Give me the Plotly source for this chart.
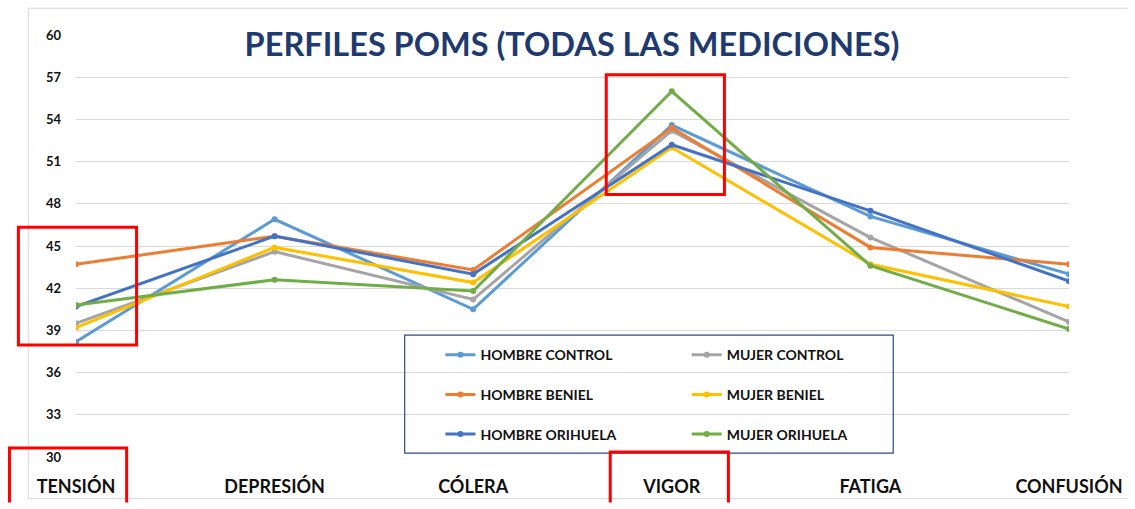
import plotly.graph_objects as go

categories = ["TENSIÓN", "DEPRESIÓN", "CÓLERA", "VIGOR", "FATIGA", "CONFUSIÓN"]

hombre_control = [38.2, 46.9, 40.5, 53.6, 47.1, 43.0]
mujer_control = [39.5, 44.6, 41.2, 53.2, 45.6, 39.6]
hombre_beniel = [43.7, 45.7, 43.3, 53.4, 44.9, 43.7]
mujer_beniel = [39.2, 44.9, 42.4, 52.0, 43.7, 40.7]
hombre_orihuela = [40.7, 45.7, 43.0, 52.2, 47.5, 42.5]
mujer_orihuela = [40.8, 42.6, 41.8, 56.0, 43.6, 39.1]

series = [
    ("HOMBRE CONTROL", hombre_control, "#5B9BD5", "legend"),
    ("MUJER CONTROL", mujer_control, "#A5A5A5", "legend2"),
    ("HOMBRE BENIEL", hombre_beniel, "#ED7D31", "legend"),
    ("MUJER BENIEL", mujer_beniel, "#FFC000", "legend2"),
    ("HOMBRE ORIHUELA", hombre_orihuela, "#4472C4", "legend"),
    ("MUJER ORIHUELA", mujer_orihuela, "#70AD47", "legend2"),
]

W, H = 1135, 509
L, T = 76, 35
R = W - 1076
B = H - 461
PW, PH = W - L - R, H - T - B


def px2paper(x, y):
    # window pixel -> paper coordinates
    return (x - L) / PW, (H - B - y) / PH


def path(points):
    parts = []
    for i, (x, y) in enumerate(points):
        px, py = px2paper(x, y)
        parts.append(("M" if i == 0 else "L") + f" {px:.5f},{py:.5f}")
    return " ".join(parts)


fig = go.Figure()
for name, vals, color, leg in series:
    fig.add_trace(go.Scatter(
        x=list(range(len(categories))), y=vals, name=name, mode="lines+markers",
        line=dict(color=color, width=3), marker=dict(color=color, size=6),
        legend=leg, legendgroup=name,
    ))

legend_common = dict(
    bgcolor="rgba(0,0,0,0)", font=dict(family="Lato", size=14, color="#111", weight="bold"),
    tracegroupgap=18.5, itemwidth=30, xanchor="left", yanchor="top",
)
lx1, ly = px2paper(443, 342)
lx2, _ = px2paper(691, 342)

# everything kept inside the window so the page never overflows
shapes = [
    # chart border (right side runs off the picture)
    dict(type="path", xref="paper", yref="paper",
         path=path([(1135, 8), (28, 8), (28, 503), (1135, 503)]),
         line=dict(color="#D9D9D9", width=1)),
    # legend box
    dict(type="path", xref="paper", yref="paper",
         path=path([(407, 338), (899, 338), (899, 457), (407, 457)]) + " Z",
         line=dict(color="#2F4A80", width=1.2)),
]
# red highlight boxes
for pts in [
    [(18, 229), (137, 229), (137, 348), (18, 348)],
    [(610, 75), (729, 75), (729, 196), (610, 196)],
]:
    shapes.append(dict(type="path", xref="paper", yref="paper", path=path(pts) + " Z",
                       line=dict(color="#FF0000", width=3)))
for pts in [
    [(9, 507), (9, 452), (127, 452), (127, 507)],
    [(614, 507), (614, 456), (733, 456), (733, 507)],
]:
    shapes.append(dict(type="path", xref="paper", yref="paper", path=path(pts),
                       line=dict(color="#FF0000", width=3)))

fig.update_layout(
    width=W, height=H, margin=dict(l=L, r=R, t=T, b=B),
    paper_bgcolor="white", plot_bgcolor="white",
    title=dict(text="<b>PERFILES POMS (TODAS LAS MEDICIONES)</b>", x=572 / W, xanchor="center",
               y=1 - 45 / H, yanchor="middle",
               font=dict(family="Lato", size=32.5, color="#1F3A6E")),
    xaxis=dict(range=[0, 5], tickvals=list(range(len(categories))), ticktext=categories,
               showgrid=False, zeroline=False, showline=False, ticks="",
               tickfont=dict(family="Lato", size=18, color="#111", weight="bold"),
               ticklabelstandoff=17, ticklabeloverflow="allow"),
    yaxis=dict(range=[30, 60], tick0=30, dtick=3, showgrid=True, gridcolor="#D9D9D9",
               gridwidth=1, zeroline=False, showline=False, ticks="",
               tickfont=dict(family="Lato", size=13, color="#111", weight="bold"),
               ticklabelstandoff=14),
    legend=dict(x=lx1, y=ly, **legend_common),
    legend2=dict(x=lx2, y=ly, **legend_common),
    shapes=shapes,
    showlegend=True,
)

# drop the default 8px page margin so the figure fills the window exactly
fig.write_html(
    "out.html",
    config={"displayModeBar": False},
    post_script="document.documentElement.style.margin='0';document.body.style.margin='0';"
                "document.body.style.overflow='hidden';",
)
